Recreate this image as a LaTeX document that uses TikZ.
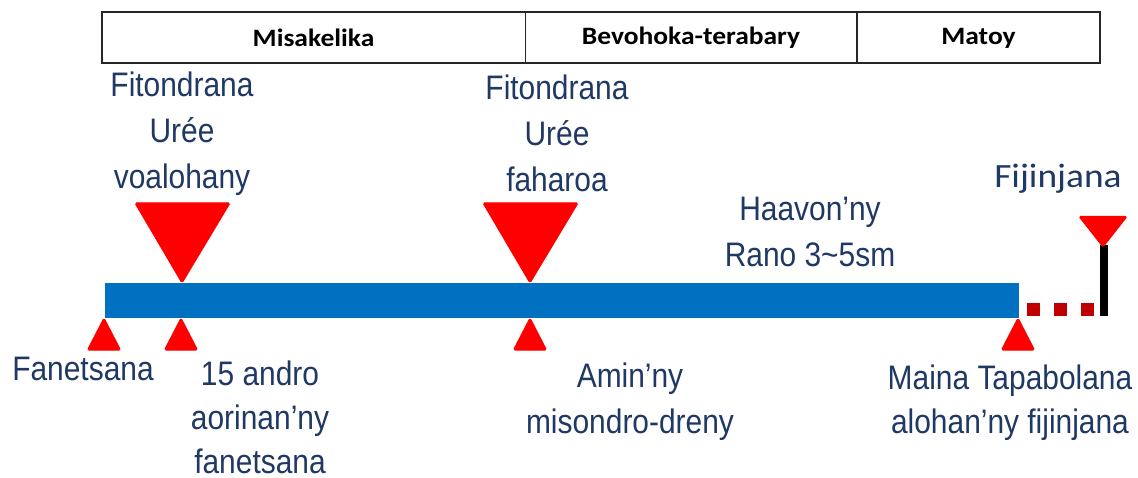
\documentclass[tikz,border=0pt]{standalone}
\usepackage{fontspec}
\setmainfont{Liberation Sans}[FakeStretch=0.88]
\newfontfamily\calib{Carlito}[FakeStretch=1.1]
\definecolor{txtblue}{HTML}{1F3864}
\definecolor{barblue}{HTML}{0070C0}
\definecolor{mred}{HTML}{FF0000}
\definecolor{dred}{HTML}{C00000}
\begin{document}
\begin{tikzpicture}[x=1pt,y=-1pt,
  lbl/.style={text=txtblue,font=\fontsize{34}{46}\selectfont,align=center,anchor=base,inner sep=0pt},
  hdr/.style={font=\calib\bfseries\fontsize{25}{30}\selectfont,text=black,inner sep=0pt},
  tri/.style={fill=mred,draw=mred,line width=1pt,rounded corners=1.5pt},
]
\useasboundingbox (0,0) rectangle (1138,478);
% header
\draw[line width=1.6pt,draw=black!85] (102,12) rectangle (1100,63);
\draw[line width=1.6pt,draw=black!85] (525.5,12) -- (525.5,63);
\draw[line width=1.6pt,draw=black!85] (857,12) -- (857,63);
\node[hdr] (h1) at (313.5,38) {Misakelika};
\node[hdr] (h2) at (691,38) {Bevohoka-terabary};
\node[hdr] (h3) at (978.5,38) {Matoy};
% bar
\fill[barblue] (105,283) rectangle (1019,318);
% big triangles
\draw[tri] (135,203) -- (230,203) -- (182,283) -- cycle;
\draw[tri] (483,203) -- (578,203) -- (530,283) -- cycle;
% small up triangles
\draw[tri] (104,318) -- (120.5,350) -- (87.5,350) -- cycle;
\draw[tri] (181,318) -- (197.5,350) -- (164.5,350) -- cycle;
\draw[tri] (530,318) -- (546.5,350) -- (513.5,350) -- cycle;
\draw[tri] (1018,318) -- (1034.5,350) -- (1001.5,350) -- cycle;
% dotted extension
\coordinate (d1) at (1027,309.5);
\coordinate (d2) at (1094,309.5);
\draw[dred,line width=13pt,dash pattern=on 13pt off 14pt] (d1) -- (d2);
% harvest post
\coordinate (p1) at (1104,245);
\coordinate (p2) at (1104,316.5);
\draw[black,line width=8pt] (p1) -- (p2);
\draw[tri] (1079,216.5) -- (1127,216.5) -- (1103,247) -- cycle;
% labels (base = baseline of last line)
\node[lbl] (n1) at (182,189) {Fitondrana\\Urée\\voalohany};
\node[lbl] (n2) at (557,192) {Fitondrana\\Urée\\faharoa};
\node[lbl] (n3) at (810,267) {Haavon’ny\\Rano 3\textasciitilde 5sm};
\node[lbl,font=\calib\fontsize{34}{40}\selectfont] (n4) at (1058,188) {Fijinjana};
\node[lbl] (n5) at (83,381) {Fanetsana};
\node[lbl,font=\fontsize{34}{44}\selectfont] (n6) at (260,473) {15 andro\\aorinan’ny\\fanetsana};
\node[lbl] (n7) at (630,433) {Amin’ny\\misondro-dreny};
\node[lbl,font=\fontsize{34}{44}\selectfont] (n8) at (1010,433) {Maina Tapabolana\\alohan’ny fijinjana};
\end{tikzpicture}
\end{document}
